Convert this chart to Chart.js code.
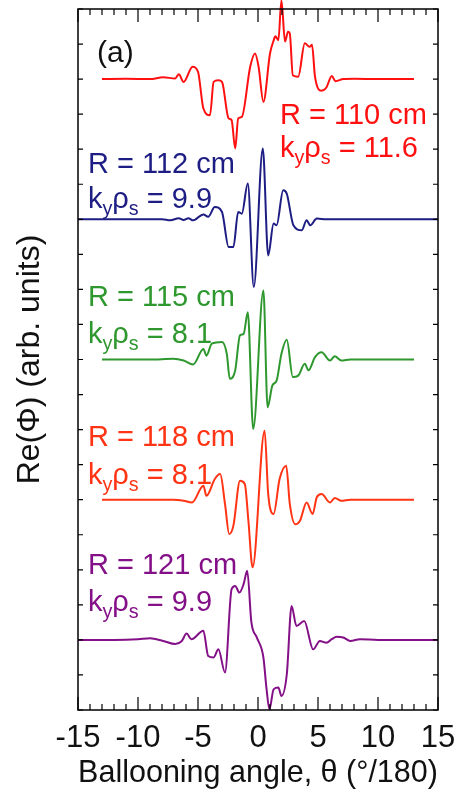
<!DOCTYPE html>
<html>
<head>
<meta charset="utf-8">
<script src="https://cdn.jsdelivr.net/npm/chart.js@4"></script>
<style>
  html, body { margin: 0; padding: 0; background: #fff; }
  #wrap { width: 455px; height: 793px; position: relative; }
</style>
</head>
<body>
<div id="wrap"><canvas id="chart"></canvas></div>
<script>
// vertical offsets of the five traces (arb. units)
const baselines = [18, 14, 10, 6, 2];
const radiusLabels = ['R = 110 cm', 'R = 112 cm', 'R = 115 cm', 'R = 118 cm', 'R = 121 cm'];
const kyRhoSValues = ['11.6', '9.9', '8.1', '8.1', '9.9'];

// R = 110 cm
const thetaR110 = [-13, -11, -9, -7.9, -6.9, -6.6, -6.2, -5.45, -5.0, -4.55, -4.0, -3.7, -3.3, -3.0, -2.45, -2.2, -1.9, -1.65, -1.35, -0.65, -0.25, 0.05, 0.45, 1.0, 1.3, 1.45, 1.7, 1.95, 2.25, 2.5, 2.65, 2.9, 3.35, 3.9, 4.3, 4.5, 4.75, 5.3, 5.7, 6.15, 6.45, 7.1, 8, 10, 13];
const phiR110 = [0, 0.01, 0, 0.05, 0.02, 0.14, -0.08, 0.35, 0.21, -0.84, -1.03, -0.08, -0.03, -0.08, -1.12, -1.17, -1.98, -1.12, -1.08, 0.35, 0.73, 0.35, -0.65, 0.73, 1.1, 1.22, 1.11, 2.25, 1.07, 1.35, 1.3, 0.11, 0.07, 1.02, 0.92, 0.98, 0.07, -0.33, -0.24, 0.09, -0.06, 0, 0.01, 0, 0];

// R = 112 cm
const thetaR112 = [-15, -10, -8, -7.3, -6.6, -6.2, -5.8, -5.4, -4.55, -4.15, -3.6, -3.0, -2.45, -2.05, -1.65, -1.35, -0.85, -0.35, 0.4, 0.85, 1.3, 1.55, 2.1, 2.4, 2.95, 3.65, 4.05, 4.35, 4.9, 5.7, 7, 10, 15];
const phiR112 = [0, 0, 0, -0.03, 0.03, -0.02, 0.03, -0.03, 0.14, 0.07, 0.35, 0.21, -0.79, -0.79, 0.21, 0.16, 1.02, -1.93, 2.02, -1.03, -0.12, -0.17, 0.83, 0.73, -0.17, -0.31, -0.03, -0.17, 0.02, 0, 0, 0, 0];

// R = 115 cm
const thetaR115 = [-13, -10, -9, -7.05, -6.2, -5.4, -4.55, -4.3, -3.85, -3.0, -2.6, -2.35, -1.9, -1.5, -1.2, -0.85, -0.4, 0.45, 0.8, 1.2, 1.55, 1.95, 2.4, 2.9, 3.35, 3.9, 4.2, 4.75, 5.3, 6.0, 6.4, 6.95, 7.7, 10, 13];
const phiR115 = [0, 0, 0, 0.02, -0.03, -0.14, 0.3, 0.11, 0.45, 0.5, 0.16, -0.55, -0.31, 0.69, 0.73, 1.35, -1.98, 1.97, -1.36, -0.74, -0.6, 0.16, 0.56, -0.5, -0.46, -0.12, -0.31, 0.07, 0.21, -0.03, 0.09, -0.03, 0, 0, 0];

// R = 118 cm
const thetaR118 = [-13, -10, -9, -7.05, -6.2, -5.5, -4.55, -4.3, -3.6, -3.15, -2.75, -2.4, -2.05, -1.5, -1.1, -0.8, -0.45, 0.55, 0.85, 1.3, 1.8, 2.35, 2.65, 3.1, 3.5, 4.05, 4.55, 4.9, 5.3, 6.0, 6.4, 6.95, 7.7, 10, 13];
const phiR118 = [0, 0, 0, 0, -0.03, -0.08, 0.4, 0.11, 0.59, 0.73, -0.12, -0.98, -0.74, 0.54, 0.45, -0.6, -1.93, 1.97, 0.16, -0.41, 0.59, 0.97, -0.12, -0.7, -0.6, -0.08, -0.41, 0.07, 0.16, -0.08, 0.05, -0.03, 0, 0, 0];

// R = 121 cm
const thetaR121 = [-15, -12, -10, -9, -7.9, -6.9, -6.35, -5.95, -5.55, -4.55, -4.15, -3.7, -3.3, -2.75, -2.2, -1.9, -1.55, -1.2, -0.9, -0.55, -0.1, 0.45, 0.7, 0.95, 1.3, 1.7, 1.95, 2.4, 2.8, 3.2, 3.85, 4.6, 5.15, 5.7, 6.15, 6.55, 7.1, 7.7, 8.5, 10, 15];
const phiR121 = [0, 0, 0.02, 0.05, -0.03, -0.12, -0.03, 0.18, 0.02, 0.26, -0.46, -0.5, -0.27, -0.93, 1.45, 1.54, 1.35, 1.59, 1.97, 0.5, 0.07, -0.5, -1.36, -1.98, -1.41, -1.36, -1.6, -0.98, 0.97, 0.4, 0.54, -0.27, -0.03, -0.08, 0.02, 0.09, 0.07, -0.03, 0.02, 0, 0];

const xTicks = [-15, -10, -5, 0, 5, 10, 15];

const traces = [[thetaR110, phiR110], [thetaR112, phiR112], [thetaR115, phiR115], [thetaR118, phiR118], [thetaR121, phiR121]];
const colors = ['#ff1010', '#1d1d84', '#2e982f', '#ff3414', '#841088'];
const fontFamily = '"Liberation Sans", Arial, sans-serif';

Chart.defaults.font.family = fontFamily;
Chart.defaults.color = '#000';

const toPoints = (thetas, values, offset) => thetas.map((theta, i) => ({ x: theta, y: values[i] + offset }));

// left edge / baselines of the two text lines for each trace, in data units
const labelAnchors = [
  { x: 1.83, y1: 16.71, y2: 15.77 },
  { x: -14.17, y1: 15.31, y2: 14.31 },
  { x: -14.17, y1: 11.54, y2: 10.46 },
  { x: -14.17, y1: 7.54, y2: 6.46 },
  { x: -14.17, y1: 3.89, y2: 2.83 },
];

const drawKyRhoS = (ctx, x, y, value, size) => {
  const sub = size * 0.68;
  const drop = size * 0.24;
  const parts = [['k', size, 0], ['y', sub, drop], ['ρ', size, 0], ['s', sub, drop], [' = ' + value, size, 0]];
  for (const [text, fs, dy] of parts) {
    ctx.font = fs + 'px ' + fontFamily;
    ctx.fillText(text, x, y + dy);
    x += ctx.measureText(text).width;
  }
};

const framePlugin = {
  id: 'frame',
  afterDatasetsDraw(chart) {
    const { ctx, chartArea: area, scales: { x, y } } = chart;
    ctx.save();
    ctx.strokeStyle = '#000';
    ctx.lineWidth = 1.5;
    ctx.strokeRect(area.left, area.top, area.right - area.left, area.bottom - area.top);

    ctx.beginPath();
    for (let t = -15; t <= 15; t++) {
      const px = x.getPixelForValue(t);
      const len = t % 5 === 0 ? 13 : 6;
      ctx.moveTo(px, area.bottom);
      ctx.lineTo(px, area.bottom - len);
      ctx.moveTo(px, area.top);
      ctx.lineTo(px, area.top + len);
    }
    for (let v = 0; v <= 20; v++) {
      const py = y.getPixelForValue(v);
      ctx.moveTo(area.left, py);
      ctx.lineTo(area.left + 5, py);
      ctx.moveTo(area.right, py);
      ctx.lineTo(area.right - 5, py);
    }
    ctx.lineWidth = 1.2;
    ctx.stroke();

    ctx.textBaseline = 'alphabetic';
    ctx.textAlign = 'left';
    ctx.fillStyle = '#111';
    ctx.font = '30px ' + fontFamily;
    ctx.fillText('(a)', x.getPixelForValue(-13.42), y.getPixelForValue(18.49));

    labelAnchors.forEach((anchor, i) => {
      const px = x.getPixelForValue(anchor.x);
      ctx.fillStyle = colors[i];
      ctx.font = '29px ' + fontFamily;
      ctx.fillText(radiusLabels[i], px, y.getPixelForValue(anchor.y1));
      drawKyRhoS(ctx, px, y.getPixelForValue(anchor.y2), kyRhoSValues[i], 29);
    });
    ctx.restore();
  },
};

new Chart(document.querySelector('#chart'), {
  type: 'line',
  data: {
    datasets: traces.map(([thetas, values], i) => ({
      label: radiusLabels[i],
      data: toPoints(thetas, values, baselines[i]),
      borderColor: colors[i],
      borderWidth: 2,
      pointRadius: 0,
      cubicInterpolationMode: 'monotone',
      clip: false,
    })),
  },
  options: {
    responsive: true,
    maintainAspectRatio: false,
    animation: false,
    layout: { padding: { top: 9, right: 17, left: 0, bottom: 0 } },
    plugins: { legend: { display: false }, tooltip: { enabled: false } },
    scales: {
      x: {
        type: 'linear',
        min: -15,
        max: 15,
        grid: { display: false, drawTicks: false },
        border: { display: false },
        afterBuildTicks: (scale) => {
          scale.ticks = xTicks.map((value) => ({ value }));
        },
        afterFit: (scale) => {
          scale.height = 83;
          scale.paddingLeft = 0;
          scale.paddingRight = 0;
        },
        ticks: {
          autoSkip: false,
          maxRotation: 0,
          padding: 10,
          font: { size: 31 },
          color: '#111',
        },
        title: {
          display: true,
          text: 'Ballooning angle, θ (°/180)',
          font: { size: 30.5 },
          color: '#111',
          padding: { top: 0, bottom: 1 },
        },
      },
      y: {
        type: 'linear',
        min: 0,
        max: 20,
        grid: { display: false, drawTicks: false },
        border: { display: false },
        ticks: { display: false },
        afterFit: (scale) => {
          scale.width = 78;
          scale.paddingTop = 0;
          scale.paddingBottom = 0;
        },
        title: {
          display: true,
          text: 'Re(Φ) (arb. units)',
          font: { size: 32 },
          color: '#111',
          padding: { top: 11, bottom: 0 },
        },
      },
    },
  },
  plugins: [framePlugin],
});
</script>
</body>
</html>
